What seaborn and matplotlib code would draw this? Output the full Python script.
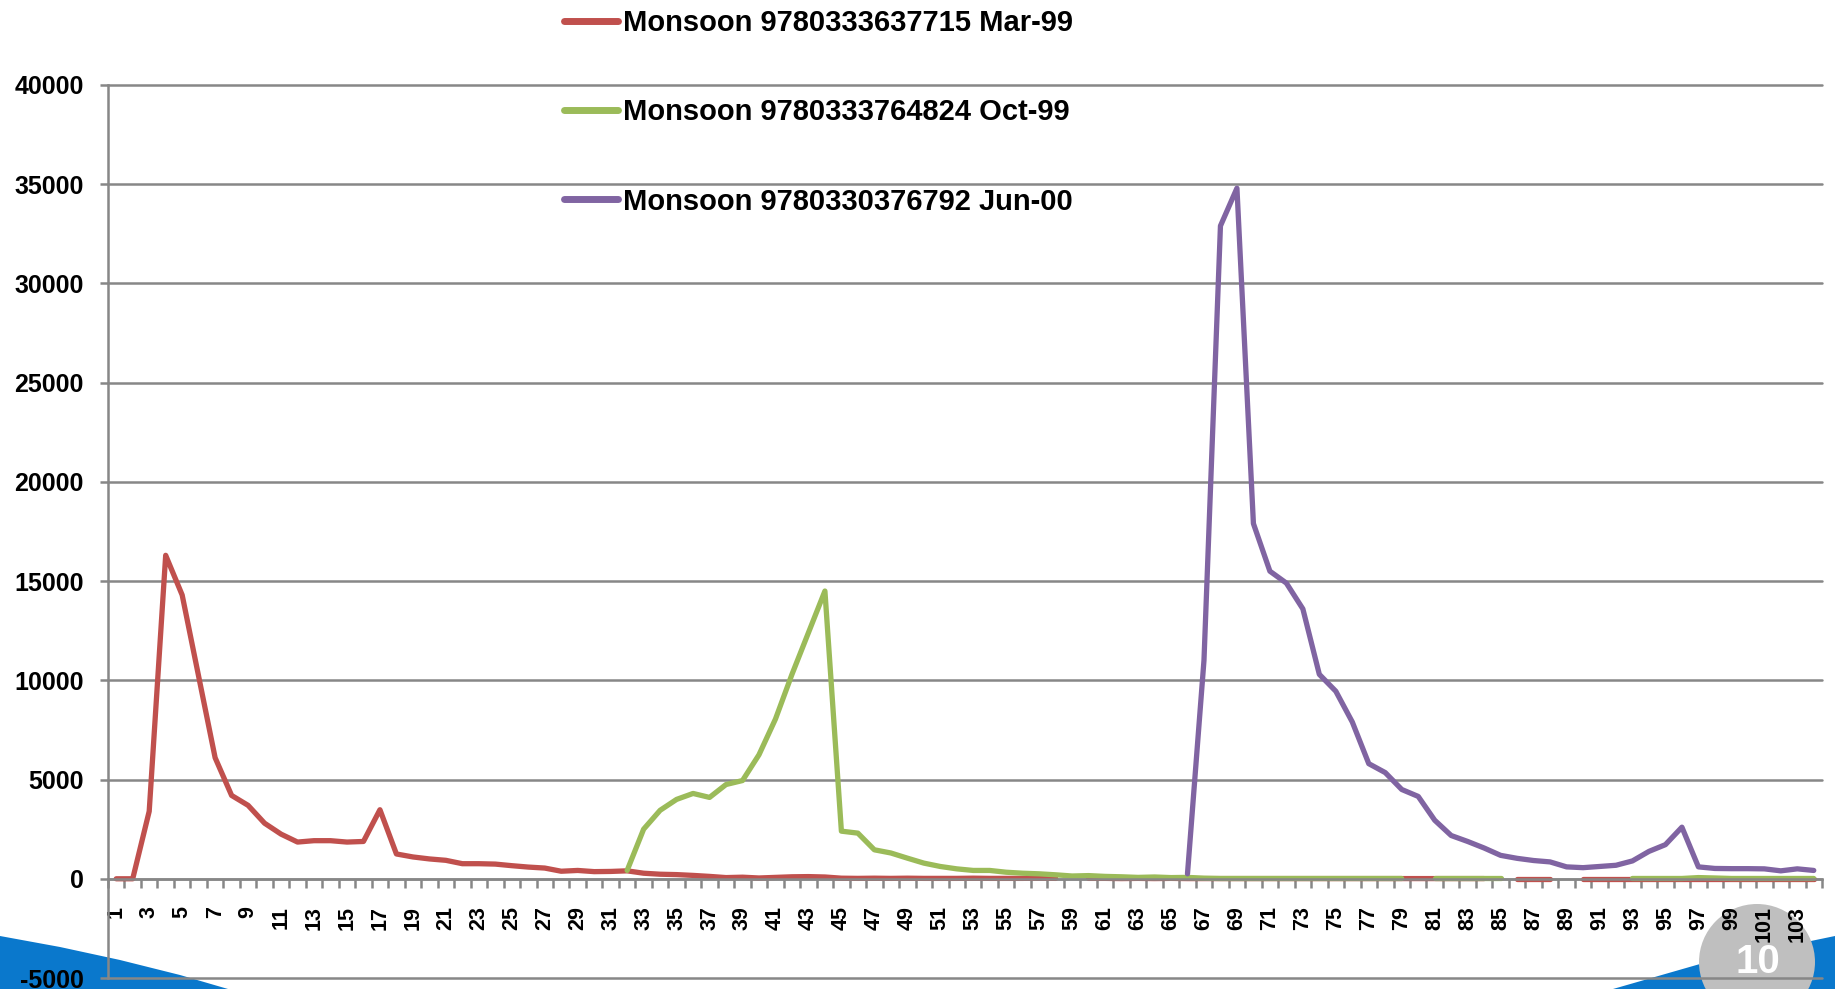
import numpy as np
import pandas as pd
import matplotlib
matplotlib.use("Agg")
import matplotlib.pyplot as plt
import seaborn as sns
from matplotlib.lines import Line2D
from matplotlib.patches import Polygon, Ellipse
from matplotlib.ticker import FixedLocator, FixedFormatter

nan = np.nan

# ---------------- data ----------------
periods = list(range(1, 105))
series_names = ["Monsoon 9780333637715 Mar-99",
                "Monsoon 9780333764824 Oct-99",
                "Monsoon 9780330376792 Jun-00"]

mar99 = [
    0, 0, 3400, 16300, 14300, 10200, 6100, 4200, 3700, 2800,
    2250, 1850, 1920, 1920, 1850, 1880, 3480, 1250, 1100, 1000,
    930, 760, 760, 740, 660, 590, 540, 380, 420, 360,
    370, 400, 280, 230, 210, 170, 120, 60, 80, 40,
    70, 100, 110, 90, 30, 20, 30, 20, 30, 20,
    20, 20, 30, 20, 20, 20, 30, 20, nan, 20,
    20, 10, 20, 10, 20, 10, 10, 10, 10, 10,
    10, 10, 10, 10, 10, 10, 10, 10, 10, 10,
    10, 10, 10, 10, nan, 10, 10, 10, nan, 10,
    10, 10, 10, 10, 10, 10, 10, 10, 10, 10,
    10, 10, 10, 10]

oct99 = [nan] * 31 + [
    420, 2500, 3450, 4000, 4300, 4100, 4750, 4950, 6250,
    8050, 10300, 12400, 14500, 2400, 2300, 1460, 1300, 1040, 790,
    620, 500, 420, 420, 330, 280, 250, 200, 140, 160,
    120, 100, 70, 90, 60, 70, 30, 15, 15, 15,
    15, 15, 15, 15, 15, 15, 15, 15, 15, nan,
    15, 15, 15, 15, 15, nan, nan, nan, nan, nan,
    nan, nan, 15, 15, 15, 15, 60, 40, 15, 15,
    15, 15, 15, 15]

jun00 = [nan] * 65 + [
    250, 11000, 32900, 34800, 17900,
    15500, 14900, 13600, 10300, 9450, 7900, 5800, 5350, 4500, 4150,
    2950, 2180, 1880, 1550, 1180, 1030, 920, 850, 600, 560,
    620, 680, 900, 1380, 1720, 2600, 600, 520, 510, 510,
    500, 400, 500, 420]

y_ticks = [-5000, 0, 5000, 10000, 15000, 20000, 25000, 30000, 35000, 40000]
x_label_positions = list(range(1, 105, 2))
x_tick_labels = [str(i) for i in x_label_positions]
colors = ["#C0504D", "#9BBB59", "#8064A2"]
slide_number = "10"

# ---------------- long-form table (blank cells break the line) ----------------
rows = []
for name, vals in zip(series_names, [mar99, oct99, jun00]):
    seg = 0
    gap = True
    for p, v in zip(periods, vals):
        if np.isnan(v):
            gap = True
            continue
        if gap:
            seg += 1
            gap = False
        rows.append((name, f"{name}_{seg}", p, v))
df = pd.DataFrame(rows, columns=["series", "unit", "period", "value"])

# ---------------- style ----------------
sns.set_style("white")
plt.rcParams["font.family"] = ["Liberation Sans", "DejaVu Sans"]
plt.rcParams["font.weight"] = "bold"
plt.rcParams["text.color"] = "black"
plt.rcParams["axes.unicode_minus"] = False
grey = "#878787"

W, H = 1835, 989
fig = plt.figure(figsize=(W / 100, H / 100), dpi=100)
fig.patch.set_facecolor("white")


def fp(x, y):
    return (x / W, 1 - y / H)


# slide decoration (behind the chart)
blue = "#0A78CC"
fig.patches.append(Polygon([fp(0, 936), fp(60, 947), fp(120, 960), fp(180, 975),
                            fp(228, 989), fp(0, 989)], closed=True,
                           transform=fig.transFigure, facecolor=blue,
                           edgecolor="none", zorder=-3))
fig.patches.append(Polygon([fp(1613, 989), fp(1700, 964), fp(1835, 936),
                            fp(1835, 989)], closed=True,
                           transform=fig.transFigure, facecolor=blue,
                           edgecolor="none", zorder=-3))
fig.patches.append(Ellipse(fp(1757, 962), 116 / W, 116 / H,
                           transform=fig.transFigure, facecolor="#BFBFBF",
                           edgecolor="none", zorder=-2))
fig.text(1758 / W, 1 - 962 / H, slide_number, color="white", fontsize=29,
         fontweight="bold", ha="center", va="center", zorder=-1)

ax = fig.add_axes([108 / W, 11 / H, 1714 / W, 893 / H])
ax.patch.set_alpha(0)

sns.lineplot(data=df, x="period", y="value", hue="series",
             hue_order=series_names, palette=colors, units="unit",
             estimator=None, lw=3.8, legend=False, ax=ax,
             solid_capstyle="round", solid_joinstyle="round")

ax.set_xlim(0.5, 104.5)
ax.set_ylim(-5000, 40000)
ax.set_xlabel("")
ax.set_ylabel("")

ax.yaxis.set_major_locator(FixedLocator(y_ticks))
ax.yaxis.set_major_formatter(FixedFormatter([str(v) for v in y_ticks]))
ax.xaxis.set_major_locator(FixedLocator(x_label_positions))
ax.xaxis.set_major_formatter(FixedFormatter(x_tick_labels))
ax.xaxis.set_minor_locator(FixedLocator(np.arange(0.5, 105, 1)))

ax.tick_params(axis="x", which="both", bottom=True)
ax.tick_params(axis="y", which="both", left=True)
ax.tick_params(axis="x", which="major", length=0, pad=19.5, labelsize=15.5,
               labelrotation=90, labelcolor="black")
ax.tick_params(axis="x", which="minor", length=6.5, width=1.8, color=grey,
               direction="out")
ax.tick_params(axis="y", which="major", length=5.5, width=1.8, color=grey,
               pad=11.8, labelsize=18, direction="out", labelcolor="black")
ax.tick_params(axis="y", which="minor", left=False)

ax.grid(axis="y", color=grey, lw=1.8)
ax.grid(axis="x", visible=False)
ax.set_axisbelow(True)
for gl in ax.get_ygridlines():
    gl.set_clip_on(False)

for s in ["top", "right"]:
    ax.spines[s].set_visible(False)
ax.spines["left"].set_color(grey)
ax.spines["left"].set_linewidth(1.8)
ax.spines["bottom"].set_position(("data", 0))
ax.spines["bottom"].set_color(grey)
ax.spines["bottom"].set_linewidth(1.8)

handles = [Line2D([], [], color=c, lw=5, solid_capstyle="round") for c in colors]
leg = fig.legend(handles, series_names, loc="upper left",
                 bbox_to_anchor=(564 / W, 1 - 9 / H), bbox_transform=fig.transFigure,
                 frameon=False, borderpad=0, borderaxespad=0, handlelength=1.85,
                 handletextpad=0.17, labelspacing=2.1,
                 prop={"family": ["Liberation Sans", "DejaVu Sans"],
                       "weight": "bold", "size": 21})
for t in leg.get_texts():
    t.set_color("black")

fig.savefig("out.png", dpi=100)
